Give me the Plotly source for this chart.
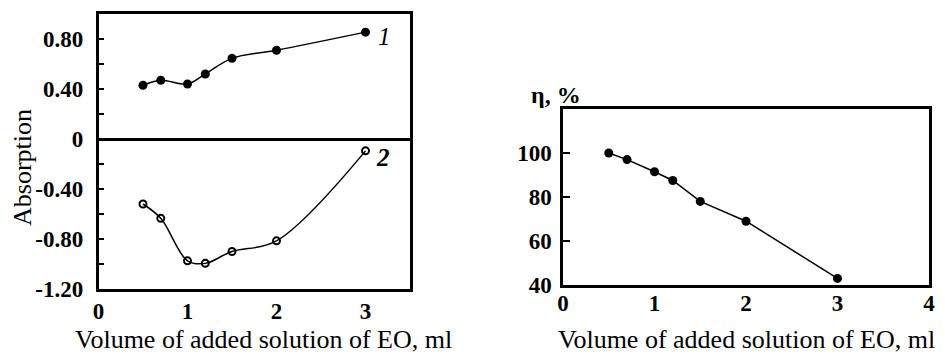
import plotly.graph_objects as go

# ---- data ----
vol = [0.5, 0.7, 1.0, 1.2, 1.5, 2.0, 3.0]
absorption_1 = [0.43, 0.47, 0.44, 0.52, 0.645, 0.71, 0.855]
absorption_2 = [-0.52, -0.635, -0.975, -0.995, -0.90, -0.815, -0.095]
eta = [100, 97, 91.5, 87.5, 78, 69, 43]

left_ytick_vals = [-1.2, -1.0, -0.8, -0.6, -0.4, -0.2, 0, 0.2, 0.4, 0.6, 0.8]
left_ytick_text = ["-1.20", "", "-0.80", "", "-0.40", "", "0", "", "0.40", "", "0.80"]
left_xtick_vals = [0, 1, 2, 3]
zero_tick_vals = [0.5, 1.0, 1.5, 2.0, 2.5, 3.0]
right_xtick_vals = [0, 1, 2, 3, 4]
right_ytick_vals = [40, 60, 80, 100]

W, H = 945, 356
SERIF = "'Liberation Serif', 'Times New Roman', Times, 'DejaVu Serif', serif"

def px_x(p):
    return p / W

def px_y(p):
    return 1 - p / H

fig = go.Figure()

fig.add_trace(go.Scatter(
    x=vol, y=absorption_1, mode="lines+markers", line_shape="spline",
    line=dict(color="black", width=1.5),
    marker=dict(symbol="circle", size=9, color="black"),
    xaxis="x", yaxis="y", showlegend=False))
fig.add_trace(go.Scatter(
    x=vol, y=absorption_2, mode="lines+markers", line_shape="spline",
    line=dict(color="black", width=1.5),
    marker=dict(symbol="circle-open", size=7, color="black", line=dict(width=2)),
    xaxis="x", yaxis="y", showlegend=False))
fig.add_trace(go.Scatter(
    x=vol, y=eta, mode="lines+markers",
    line=dict(color="black", width=1.5),
    marker=dict(symbol="circle", size=9, color="black"),
    xaxis="x2", yaxis="y2", showlegend=False))

tickfont = dict(family=SERIF, size=23, color="black", weight="bold")
axis_common = dict(showgrid=False, showline=True, linecolor="black", linewidth=2.5,
                   mirror=True, tickfont=tickfont, tickcolor="black", automargin=False)

left_dom_x = [px_x(98.5), px_x(410)]
left_dom_y = [px_y(289), px_y(14)]
right_dom_x = [px_x(563), px_x(929)]
right_dom_y = [px_y(285), px_y(109)]

fig.update_layout(
    width=W, height=H,
    margin=dict(l=0, r=0, t=0, b=0, autoexpand=False),
    paper_bgcolor="white", plot_bgcolor="white",
    font=dict(family=SERIF, color="black"),
    xaxis=dict(domain=left_dom_x, range=[0, 3.5], tickvals=left_xtick_vals,
               ticks="", ticklabelstandoff=0, zeroline=False, anchor="y", **axis_common),
    yaxis=dict(domain=left_dom_y, range=[-1.2, 1.0], tickvals=left_ytick_vals,
               ticktext=left_ytick_text, ticks="inside", ticklen=6, tickwidth=1.5,
               ticklabelstandoff=8,
               zeroline=True, zerolinecolor="black", zerolinewidth=2.5, anchor="x",
               **axis_common),
    xaxis3=dict(overlaying="x", anchor="free", position=px_y(138), side="top",
                range=[0, 3.5], tickvals=zero_tick_vals, ticks="outside", ticklen=5,
                tickwidth=1.5, tickcolor="black", showticklabels=False,
                showline=False, showgrid=False, zeroline=False, automargin=False),
    xaxis2=dict(domain=right_dom_x, range=[0, 4], tickvals=right_xtick_vals,
                ticks="", ticklabelstandoff=-4, zeroline=False, anchor="y2", **axis_common),
    yaxis2=dict(domain=right_dom_y, range=[40, 120], tickvals=right_ytick_vals,
                ticks="inside", ticklen=7, tickwidth=1.5, ticklabelstandoff=4,
                zeroline=False, anchor="x2", **axis_common),
)

title_font = dict(family=SERIF, size=26, color="black")
fig.add_annotation(text="Volume of added solution of EO, ml", xref="paper", yref="paper",
                   x=px_x(263), y=0, showarrow=False, font=title_font,
                   xanchor="center", yanchor="bottom")
fig.add_annotation(text="Volume of added solution of EO, ml", xref="paper", yref="paper",
                   x=px_x(746), y=0, showarrow=False, font=title_font,
                   xanchor="center", yanchor="bottom")
fig.add_annotation(text="Absorption", xref="paper", yref="paper",
                   x=px_x(22), y=px_y(168), showarrow=False, textangle=-90,
                   font=dict(family=SERIF, size=26, color="black"),
                   xanchor="center", yanchor="middle")
fig.add_annotation(text="η, %", xref="paper", yref="paper",
                   x=px_x(556), y=px_y(95), showarrow=False,
                   font=dict(family=SERIF, size=24, color="black", weight="bold"),
                   xanchor="center", yanchor="middle")
fig.add_annotation(text="<i>1</i>", xref="paper", yref="paper",
                   x=px_x(384), y=px_y(36), showarrow=False,
                   font=dict(family=SERIF, size=25, color="black"),
                   xanchor="center", yanchor="middle")
fig.add_annotation(text="<i>2</i>", xref="paper", yref="paper",
                   x=px_x(383), y=px_y(157), showarrow=False,
                   font=dict(family=SERIF, size=25, color="black", weight="bold"),
                   xanchor="center", yanchor="middle")

fig.write_html("out.html")
